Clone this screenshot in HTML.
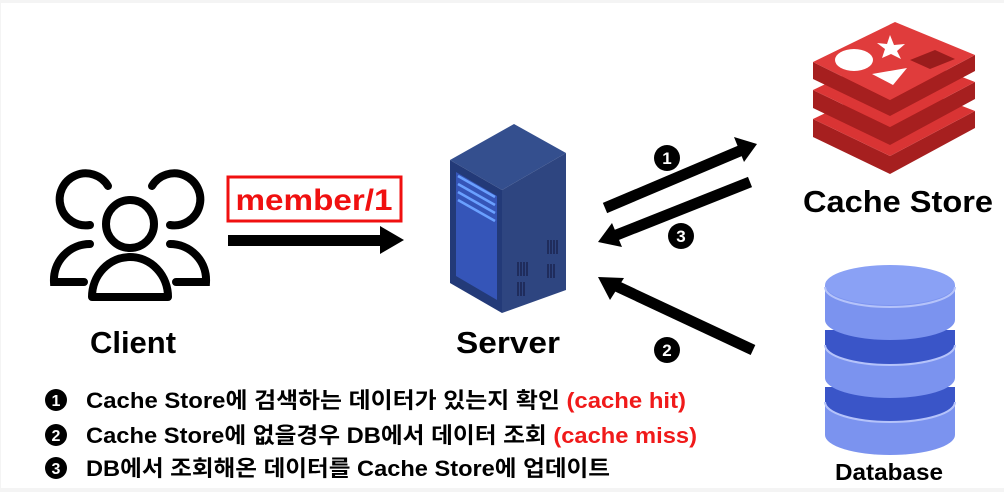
<!DOCTYPE html>
<html><head><meta charset="utf-8"><style>
body{margin:0;width:1004px;height:492px;background:#f4f4f4;overflow:hidden}
svg{position:absolute;left:0;top:0}
text{font-family:"Liberation Sans","Noto Sans CJK KR",sans-serif;font-weight:bold}
</style></head><body>
<svg width="1004" height="492" viewBox="0 0 1004 492">
<rect x="1" y="3" width="1003" height="485" fill="#fff"/>
<!-- client icon -->
<g fill="none" stroke="#000" stroke-width="8" stroke-linecap="round">
<circle cx="130" cy="224" r="24"/>
<path d="M92 297 A38 40 0 0 1 168 297 Z" stroke-linejoin="round"/>
<path d="M108 186 A26 26 0 1 0 90 225"/>
<path d="M152 186 A26 26 0 1 1 170 225"/>
<path d="M90 244 A36 36 0 0 0 54 282 L84 282"/>
<path d="M170 244 A36 36 0 0 1 206 282 L176 282"/>
</g>
<text x="133" y="353" font-size="31" text-anchor="middle">Client</text>
<!-- member box & arrow -->
<rect x="228" y="177" width="173" height="44" fill="none" stroke="#f01010" stroke-width="3"/>
<text x="314" y="210" font-size="30" fill="#f01010" text-anchor="middle" textLength="157" lengthAdjust="spacingAndGlyphs">member/1</text>
<rect x="228" y="235" width="155" height="11" fill="#000"/>
<polygon points="380,226 404,240 380,254" fill="#000"/>
<!-- server -->
<polygon points="450,160 514,124 566,153 502,190" fill="#344f8e"/>
<polygon points="502,190 566,153 566,290 502,313" fill="#2e4580"/>
<polygon points="450,160 502,190 502,313 450,283" fill="#233a78"/>
<polygon points="456,172 497,196 497,300 456,276" fill="#3a5cc8" opacity="0.8"/>
<g stroke="#6aa0ff" stroke-width="2.5"><line x1="458" y1="176" x2="495" y2="197"/><line x1="458" y1="184" x2="495" y2="205"/><line x1="458" y1="192" x2="495" y2="213"/><line x1="458" y1="200" x2="495" y2="221"/></g>
<g stroke="#1a2550" stroke-width="1.5"><path d="M518 262v14M521 262v14M524 262v14M527 262v14M518 282v14M521 282v14M524 282v14M548 240v14M551 240v14M554 240v14M557 240v14M548 264v14M551 264v14M554 264v14"/></g>
<text x="508" y="353" font-size="31" text-anchor="middle" textLength="104" lengthAdjust="spacingAndGlyphs">Server</text>
<!-- arrows right -->
<g stroke="#000" stroke-width="11"><line x1="605" y1="208" x2="742" y2="150"/><line x1="750" y1="182" x2="614" y2="236"/><line x1="753" y1="350" x2="612" y2="284"/></g>
<polygon points="757,144 734,137 744,162" fill="#000"/>
<polygon points="598,242 612,223 622,247" fill="#000"/>
<polygon points="598,277 624,278 610,300" fill="#000"/>
<g font-size="17" fill="#fff" text-anchor="middle"><circle cx="667" cy="158" r="13" fill="#000"/><text x="667" y="164">1</text>
<circle cx="681" cy="236" r="13" fill="#000"/><text x="681" y="242">3</text>
<circle cx="667" cy="350" r="13" fill="#000"/><text x="667" y="356">2</text></g>
<!-- redis -->
<g>
<polygon points="813,119 813,137 890,174 975,128 975,111 890,156" fill="#a61f1f"/>
<polygon points="813,119 895,80 975,111 890,156" fill="#d93434"/>
<polygon points="813,90 813,108 890,145 975,99 975,82 890,127" fill="#a61f1f"/>
<polygon points="813,90 895,51 975,82 890,127" fill="#dc3636"/>
<polygon points="813,62 813,79 890,116 975,71 975,55 890,100" fill="#a61f1f"/>
<polygon points="813,62 895,22 975,55 890,100" fill="#e03c3c"/>
<ellipse cx="854" cy="60" rx="19" ry="11" fill="#fff"/>
<polygon points="890,35 894,45 905,44 897,51 901,59 891,54 882,58 885,49 877,43 887,44" fill="#fff"/>
<polygon points="872,74 907,68 893,85" fill="#fff"/>
<polygon points="910,60 935,50 955,59 930,69" fill="#9a1c1c"/>
</g>
<text x="898" y="212" font-size="31" text-anchor="middle" textLength="190" lengthAdjust="spacingAndGlyphs">Cache Store</text>
<!-- database -->
<g>
<path d="M825 400 v35 a65 20 0 0 0 130 0 v-35 z" fill="#7b93ef"/>
<path d="M825 387 v15 a65 20 0 0 0 130 0 v-15 z" fill="#3a55c8"/>
<path d="M825 343 v35 a65 20 0 0 0 130 0 v-35 z" fill="#7b93ef"/>
<path d="M825 330 v15 a65 20 0 0 0 130 0 v-15 z" fill="#3a55c8"/>
<path d="M825 285 v35 a65 20 0 0 0 130 0 v-35 z" fill="#7b93ef"/>
<ellipse cx="890" cy="285" rx="65" ry="20" fill="#8aa1f5"/>
<g fill="none" stroke="#b5c3fa" stroke-width="2"><path d="M825 287 a65 20 0 0 0 130 0"/><path d="M825 345 a65 20 0 0 0 130 0"/><path d="M825 402 a65 20 0 0 0 130 0"/></g>
</g>
<text x="889" y="480" font-size="23" text-anchor="middle" textLength="108" lengthAdjust="spacingAndGlyphs">Database</text>
<!-- legend -->
<g font-size="22">
<circle cx="56" cy="400" r="11" fill="#000"/><text x="56" y="406" font-size="16" fill="#fff" text-anchor="middle">1</text>
<text x="86" y="408" textLength="600" lengthAdjust="spacingAndGlyphs">Cache Store에 검색하는 데이터가 있는지 확인 <tspan fill="#f01a1a">(cache hit)</tspan></text>
<circle cx="56" cy="435" r="11" fill="#000"/><text x="56" y="441" font-size="16" fill="#fff" text-anchor="middle">2</text>
<text x="86" y="443" textLength="611" lengthAdjust="spacingAndGlyphs">Cache Store에 없을경우 DB에서 데이터 조회 <tspan fill="#f01a1a">(cache miss)</tspan></text>
<circle cx="56" cy="468" r="11" fill="#000"/><text x="56" y="474" font-size="16" fill="#fff" text-anchor="middle">3</text>
<text x="86" y="476" textLength="524" lengthAdjust="spacingAndGlyphs">DB에서 조회해온 데이터를 Cache Store에 업데이트</text>
</g>
</svg>
</body></html>
